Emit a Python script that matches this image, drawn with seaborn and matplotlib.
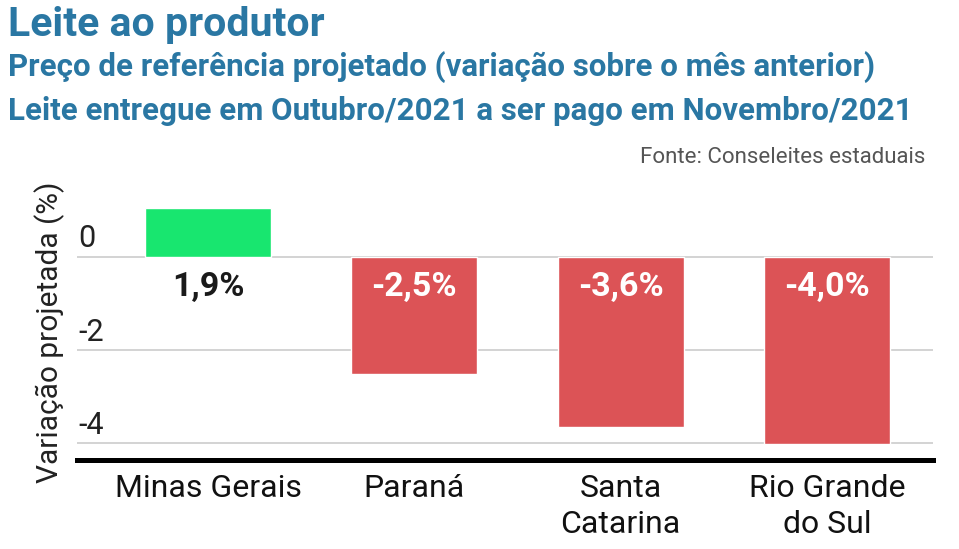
import numpy as np
import pandas as pd
import seaborn as sns
import matplotlib.pyplot as plt

# data
estados = ["Minas Gerais", "Paraná", "Santa\nCatarina", "Rio Grande\ndo Sul"]
variacao = [1.04, -2.52, -3.65, -4.02]   # bar heights as drawn
rotulos = ["1,9%", "-2,5%", "-3,6%", "-4,0%"]
cores = ["#18e66f", "#dc5356", "#dc5356", "#dc5356"]
cor_rotulo = ["#1a1a1a", "white", "white", "white"]
yticks = [0, -2, -4]

sns.set_style("white")
plt.rcParams["font.family"] = ["Roboto", "DejaVu Sans"]

df = pd.DataFrame({"estado": estados, "variacao": variacao})

fig = plt.figure(figsize=(9.59, 5.49), dpi=100)
ax = fig.add_axes([0.0803, 0.1621, 0.8926, 0.5009])

sns.barplot(data=df, x="estado", y="variacao", hue="estado", palette=cores,
            legend=False, width=0.61, saturation=1, ax=ax)

ax.set_xlim(-0.635, 3.514)
ax.set_ylim(-4.356, 1.536)

# gridlines + labels sitting above them, datawrapper style
for t in yticks:
    ax.axhline(t, color="#cccccc", lw=1.2, zorder=0)
    ax.text(0.002, t + 0.2, str(t), transform=ax.get_yaxis_transform(),
            ha="left", va="baseline", fontsize=22, color="#222222")
ax.set_yticks([])

for i, (lab, c) in enumerate(zip(rotulos, cor_rotulo)):
    ax.text(i, -0.65, lab, ha="center", va="center", fontsize=24.5,
            fontweight="bold", color=c)

for s in ["top", "left", "right"]:
    ax.spines[s].set_visible(False)
ax.spines["bottom"].set_linewidth(3.6)
ax.spines["bottom"].set_color("black")
ax.tick_params(axis="x", length=0, pad=10, labelsize=23, labelcolor="#111111")
for lbl in ax.get_xticklabels():
    lbl.set_linespacing(1.3)
ax.set_xlabel("")
ax.set_ylabel("")

fig.text(50 / 959, 1 - 332 / 549, "Variação projetada (%)", rotation=90,
         ha="center", va="center", fontsize=21.5, color="#222222")

azul = "#2a77a3"
fig.text(8 / 959, 1 - 36 / 549, "Leite ao produtor", fontsize=29.5,
         fontweight="bold", color=azul, va="baseline")
fig.text(8 / 959, 1 - 76 / 549,
         "Preço de referência projetado (variação sobre o mês anterior)",
         fontsize=22.5, fontweight="bold", color=azul, va="baseline")
fig.text(8 / 959, 1 - 120 / 549,
         "Leite entregue em Outubro/2021 a ser pago em Novembro/2021",
         fontsize=22.5, fontweight="bold", color=azul, va="baseline")
fig.text(925 / 959, 1 - 163 / 549, "Fonte: Conseleites estaduais",
         fontsize=16, color="#555555", ha="right", va="baseline")

fig.savefig("out.png", dpi=100)
